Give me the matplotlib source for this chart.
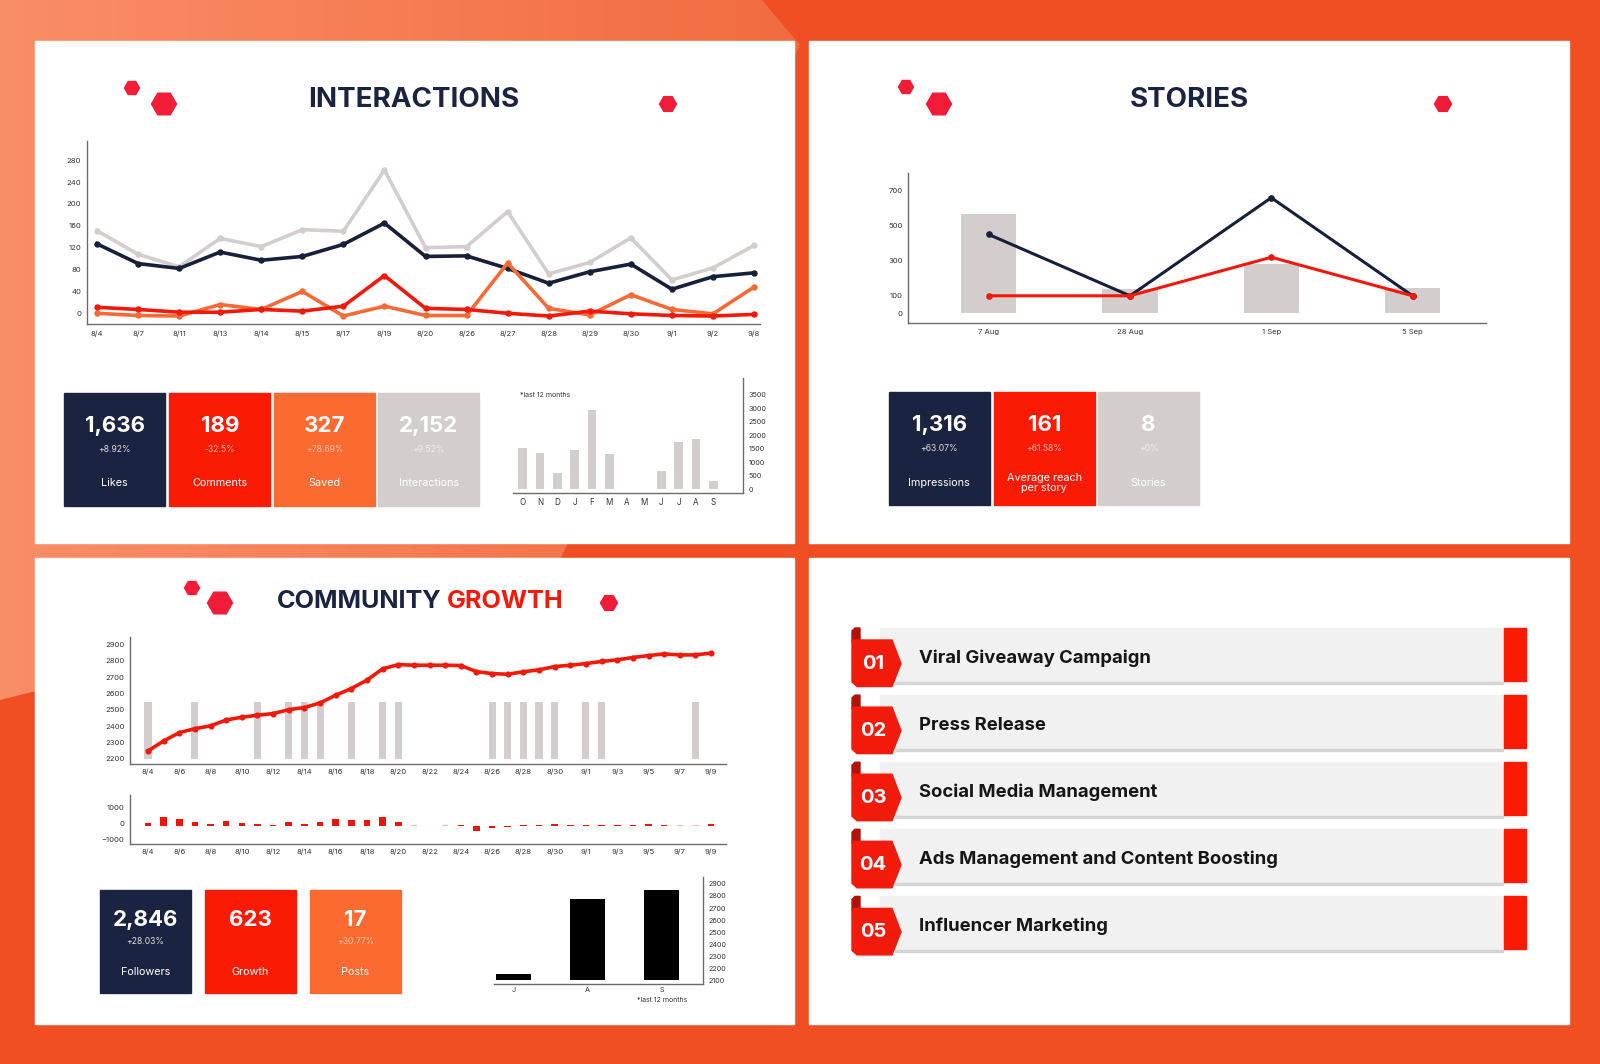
import numpy as np
import matplotlib
matplotlib.use("Agg")
import matplotlib.pyplot as plt
from matplotlib.patches import Rectangle, Polygon, RegularPolygon
from matplotlib.colors import LinearSegmentedColormap

W, H = 1600, 1064
plt.rcParams["font.family"] = ["Inter", "DejaVu Sans"]

NAVY = "#1A2440"
RED = "#FA1B05"
ORANGE = "#FA6A31"
GRAY = "#D3CDCD"
TICK = "#333333"
AXIS = "#6B6B6B"

# ---- data: interactions ----
inter_dates = ["8/4", "8/7", "8/11", "8/13", "8/14", "8/15", "8/17", "8/19", "8/20",
               "8/26", "8/27", "8/28", "8/29", "8/30", "9/1", "9/2", "9/8"]
likes = [127, 91, 82, 112, 97, 104, 126, 165, 104, 105, 82, 55, 76, 90, 44, 67, 74]
comments = [11, 7, 2, 2, 7, 4, 13, 69, 9, 7, 0, -5, 4, -1, -4, -5, -2]
saved = [0, -4, -5, 16, 7, 40, -5, 13, -4, -4, 92, 9, -3, 34, 7, -1, 48]
interactions = [151, 108, 85, 137, 122, 153, 150, 262, 120, 122, 186, 72, 93, 138, 61, 83, 124]

months_12 = ["O", "N", "D", "J", "F", "M", "A", "M", "J", "J", "A", "S"]
interactions_12m = [1530, 1330, 590, 1440, 2930, 1310, 0, 0, 680, 1770, 1860, 300]

inter_kpi_values = ["1,636", "189", "327", "2,152"]
inter_kpi_pct = ["+8.92%", "-32.5%", "+78.69%", "+9.52%"]
inter_kpi_labels = ["Likes", "Comments", "Saved", "Interactions"]

# ---- data: stories ----
story_dates = ["7 Aug", "28 Aug", "1 Sep", "5 Sep"]
story_bars = [567, 137, 282, 143]
story_impressions = [450, 100, 660, 100]
story_reach = [100, 100, 320, 100]

story_kpi_values = ["1,316", "161", "8"]
story_kpi_pct = ["+63.07%", "+61.58%", "+0%"]
story_kpi_labels = ["Impressions", "Average reach\nper story", "Stories"]

# ---- data: community growth ----
growth_ticks = ["8/4", "8/6", "8/8", "8/10", "8/12", "8/14", "8/16", "8/18", "8/20", "8/22",
                "8/24", "8/26", "8/28", "8/30", "9/1", "9/3", "9/5", "9/7", "9/9"]
followers = [2249, 2310, 2361, 2385, 2402, 2438, 2455, 2467, 2477, 2501, 2514, 2542, 2589,
             2630, 2681, 2750, 2776, 2772, 2772, 2772, 2770, 2733, 2721, 2717, 2732, 2744,
             2764, 2772, 2782, 2795, 2805, 2819, 2831, 2841, 2835, 2835, 2846]
posts = [1, 0, 0, 1, 0, 0, 0, 1, 0, 1, 1, 1, 0, 1, 0, 1, 1, 0, 0, 0,
         0, 0, 1, 1, 1, 1, 1, 0, 1, 1, 0, 0, 0, 0, 0, 1, 0]
daily_change = [40, 375, 250, 60, -40, 150, 0, -60, -80, 60, -40, 80, 250, 210, 230, 400, 60,
                -80, np.nan, -80, -110, -460, -270, -200, -80, -80, -50, -80, -80, -80, -80,
                -80, -50, -80, -80, -80, -60]
faint_days = [17, 19, 34, 35]

months_3 = ["J", "A", "S"]
followers_3m = [2150, 2776, 2846]

growth_kpi_values = ["2,846", "623", "17"]
growth_kpi_pct = ["+28.03%", "", "+30.77%"]
growth_kpi_labels = ["Followers", "Growth", "Posts"]

# ---- data: services list ----
service_nums = ["01", "02", "03", "04", "05"]
service_names = ["Viral Giveaway Campaign", "Press Release", "Social Media Management",
                 "Ads Management and Content Boosting", "Influencer Marketing"]


def add_ax(fig, x0, y0, x1, y1):
    ax = fig.add_axes([x0 / W, 1 - y1 / H, (x1 - x0) / W, (y1 - y0) / H])
    ax.set_facecolor("none")
    return ax


def style(ax, right=False, size=5.5):
    for s in ["top", "right", "left", "bottom"]:
        ax.spines[s].set_visible(False)
    ax.spines["bottom"].set_visible(True)
    ax.spines["right" if right else "left"].set_visible(True)
    for s in ["bottom", "left", "right"]:
        ax.spines[s].set_color(AXIS)
        ax.spines[s].set_linewidth(1.0)
    if right:
        ax.yaxis.tick_right()
    ax.tick_params(length=0, labelsize=size, colors=TICK, pad=4)


def hexagon(bg, x, y, r):
    bg.add_patch(RegularPolygon((x, y), 6, radius=r, orientation=np.pi / 6,
                                color="#F11D38", zorder=3))


def kpi(bg, x0, y0, w, h, color, value, pct, label, pct_color, lab_color="white"):
    bg.add_patch(Rectangle((x0, y0), w, h, color=color, zorder=2))
    cx = x0 + w / 2
    k = h / 112.4
    bg.text(cx, y0 + 33 * k, value, ha="center", va="center", fontsize=16,
            fontweight="bold", color="white", zorder=3)
    bg.text(cx, y0 + 56 * k, pct, ha="center", va="center", fontsize=6.2,
            color=pct_color, zorder=3)
    bg.text(cx, y0 + 90 * k, label, ha="center", va="center", fontsize=7.8,
            color=lab_color, zorder=3, linespacing=1.0)


fig = plt.figure(figsize=(16, 10.64), dpi=100)
bg = fig.add_axes([0, 0, 1, 1])
bg.axis("off")

# background
bg.add_patch(Rectangle((0, 0), W, H, color="#F04F24", zorder=0))
cmap = LinearSegmentedColormap.from_list("bgl", ["#FA8E67", "#F26B40"])
im = bg.imshow(np.linspace(0, 1, 256).reshape(1, -1), cmap=cmap, extent=(0, 805, H, 0),
               aspect="auto", zorder=0.5)
im.set_clip_path(Polygon([(0, 0), (762, 0), (800, 45), (560, 560), (0, 700)], closed=True,
                         transform=bg.transData))
bg.set_xlim(0, W)
bg.set_ylim(H, 0)

# panels
for (x0, y0, x1, y1) in [(35, 41, 794, 543), (809, 41, 1569, 543),
                         (35, 558, 794, 1024), (809, 558, 1569, 1024)]:
    bg.add_patch(Rectangle((x0, y0), x1 - x0, y1 - y0, color="white", zorder=1))

# titles + hexagons
bg.text(414, 100, "INTERACTIONS", ha="center", va="center", fontsize=20,
        fontweight="bold", color=NAVY, zorder=3)
bg.text(1189, 100, "STORIES", ha="center", va="center", fontsize=20,
        fontweight="bold", color=NAVY, zorder=3)
bg.text(442, 601, "COMMUNITY", ha="right", va="center", fontsize=18.2,
        fontweight="bold", color=NAVY, zorder=3)
bg.text(447, 601, "GROWTH", ha="left", va="center", fontsize=18.2,
        fontweight="bold", color="#F21A0B", zorder=3)
for (x, y, r) in [(132, 88, 7.5), (164, 104, 12.5), (668, 104, 8.5),
                  (906, 87, 7.5), (939, 104, 12.5), (1443, 104, 8.5),
                  (192, 588, 7.5), (220, 603, 12.5), (609, 603, 8.5)]:
    hexagon(bg, x, y, r)

# ---- interactions line chart ----
ax = add_ax(fig, 86.7, 140.8, 760.2, 324.5)
style(ax)
xi = range(len(inter_dates))
for vals, col in [(interactions, GRAY), (likes, "#17203A"), (saved, "#F56A35"), (comments, "#F2190A")]:
    ax.plot(xi, vals, color=col, lw=2.6, marker="o", ms=3.6, solid_joinstyle="round")
ax.set_xlim(-0.25, 16.15)
ax.set_ylim(-20.5, 315.5)
ax.set_yticks(range(0, 281, 40))
ax.set_xticks(list(xi))
ax.set_xticklabels(inter_dates)

# ---- interactions last 12 months ----
ax = add_ax(fig, 513, 377.6, 742.7, 493)
style(ax, right=True, size=5.2)
ax.bar(range(len(months_12)), interactions_12m, width=0.5, color=GRAY)
ax.set_xlim(-0.56, 12.7)
ax.set_ylim(-136, 4137)
ax.set_yticks(range(0, 3501, 500))
ax.set_xticks(range(len(months_12)))
ax.set_xticklabels(months_12, fontsize=5.8)
ax.tick_params(axis="x", pad=3.5)
bg.text(520, 395, "*last 12 months", fontsize=5, color=TICK, va="center", zorder=3)

inter_colors = [NAVY, RED, ORANGE, GRAY]
inter_pct_colors = ["#DADCE2", "#FFB3A6", "#FFC3A6", "#F2EFEF"]
for i, x0 in enumerate([64.3, 169.3, 274, 378.3]):
    kpi(bg, x0, 393.3, 101, 112.4, inter_colors[i], inter_kpi_values[i], inter_kpi_pct[i],
        inter_kpi_labels[i], inter_pct_colors[i])

# ---- stories chart ----
ax = add_ax(fig, 908.2, 173, 1486, 322.5)
style(ax)
xs = range(len(story_dates))
ax.bar(xs, story_bars, width=0.39, color=GRAY, zorder=1)
ax.plot(xs, story_impressions, color="#17203A", lw=2.2, marker="o", ms=3.8, zorder=3)
ax.plot(xs, story_reach, color="#F2190A", lw=2.2, marker="o", ms=3.8, zorder=4)
ax.set_xlim(-0.57, 3.52)
ax.set_ylim(-52.5, 801)
ax.set_yticks([0, 100, 300, 500, 700])
ax.set_xticks(list(xs))
ax.set_xticklabels(story_dates)
ax.tick_params(axis="x", pad=5)

story_colors = [NAVY, RED, GRAY]
story_pct_colors = ["#DADCE2", "#FFB3A6", "#F2EFEF"]
for i, x0 in enumerate([889, 994, 1098.3]):
    kpi(bg, x0, 392.3, 100.5, 112.7, story_colors[i], story_kpi_values[i], story_kpi_pct[i],
        story_kpi_labels[i], story_pct_colors[i])

# ---- community growth line ----
days = range(len(followers))
ax = add_ax(fig, 130, 636.7, 726.4, 764.3)
style(ax)
ax.plot(days, followers, color="#F2190A", lw=2.6, marker="o", ms=3.4, zorder=3)
ax.set_xlim(-1.15, 36.98)
ax.set_ylim(2167.6, 2946)
ax.set_yticks(range(2200, 2901, 100))
ax.set_xticks(range(0, len(followers), 2))
ax.set_xticklabels(growth_ticks)
ax.tick_params(axis="x", pad=3)
ax2 = ax.twinx()
ax2.bar(days, posts, width=0.45, color=GRAY, zorder=1)
ax2.set_ylim(-0.093, 2.144)
ax2.axis("off")
ax.set_zorder(ax2.get_zorder() + 1)

# ---- daily change bars ----
base = -170
ax = add_ax(fig, 130, 795, 726.4, 844.3)
style(ax)
chg = np.array(daily_change, dtype=float)
cols = ["#F6B7B0" if d in faint_days else "#EC1608" for d in days]
ax.bar(days, chg - base, bottom=base, width=0.42, color=cols)
ax.set_xlim(-1.15, 36.98)
ax.set_ylim(-1312, 1769)
ax.set_yticks([-1000, 0, 1000])
ax.set_xticks(range(0, len(followers), 2))
ax.set_xticklabels(growth_ticks)
ax.tick_params(axis="x", pad=3)

# ---- followers last months ----
ax = add_ax(fig, 494, 876.7, 702.7, 984)
style(ax, right=True, size=5.2)
ax.bar(range(len(months_3)), np.array(followers_3m) - 2100, bottom=2100, width=0.47,
       color="black")
ax.set_xlim(-0.26, 2.55)
ax.set_ylim(2069, 2960)
ax.set_yticks(range(2100, 2901, 100))
ax.set_xticks(range(len(months_3)))
ax.set_xticklabels(months_3)
ax.tick_params(axis="x", pad=2)
bg.text(662, 999.5, "*last 12 months", fontsize=5, color=TICK, ha="center", va="center", zorder=3)

growth_colors = [NAVY, RED, ORANGE]
growth_pct_colors = ["#DADCE2", "#FFB3A6", "#FFC3A6"]
for i, x0 in enumerate([100, 205, 310]):
    kpi(bg, x0, 889.7, 91, 103, growth_colors[i], growth_kpi_values[i], growth_kpi_pct[i],
        growth_kpi_labels[i], growth_pct_colors[i])

# ---- services list ----
for i, (num, name) in enumerate(zip(service_nums, service_names)):
    top = 628 + i * 67.1
    bg.add_patch(Rectangle((880, top), 1504 - 880, 53.5, color="#F1F1F1", zorder=2))
    bg.add_patch(Rectangle((895, top + 53.5), 1503 - 895, 2.5, color="#CFCFCF", alpha=0.8, zorder=2))
    bg.add_patch(Rectangle((1504, top), 22, 53, color=RED, zorder=2))
    bg.add_patch(Polygon([(852, top + 14), (852, top + 3), (855, top), (860, top), (860, top + 14)],
                         color="#B3120A", zorder=3))
    bg.add_patch(Polygon([(852, top + 12), (892, top + 12), (901, top + 35.5), (892, top + 58.5),
                          (857, top + 58.5), (852, top + 54)], color="#F21A0B", zorder=3))
    bg.text(873, top + 36, num, ha="center", va="center", fontsize=14.5, fontweight="bold",
            color="white", zorder=4)
    bg.text(919, top + 30, name, ha="left", va="center", fontsize=13.3, fontweight="bold",
            color="#161616", zorder=4)

fig.savefig("out.png", dpi=100)
